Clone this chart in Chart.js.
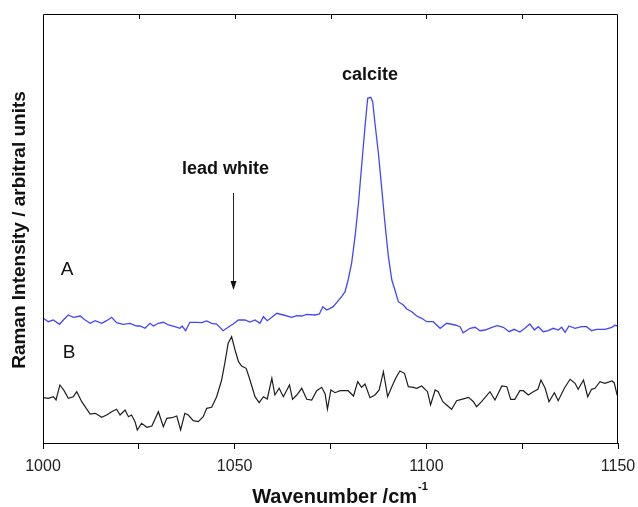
<!DOCTYPE html>
<html>
<head>
<meta charset="utf-8">
<script src="https://cdn.jsdelivr.net/npm/chart.js@4/dist/chart.umd.min.js"></script>
<style>
  html, body { margin: 0; padding: 0; background: #fff; }
  #wrap { width: 638px; height: 507px; }
</style>
</head>
<body>
<div id="wrap"><canvas id="c" width="638" height="507"></canvas></div>
<script>
// Raman spectra, 1000-1150 cm-1 (intensity in arbitrary units)
// Spectrum A: sample with calcite band near 1086 cm-1
const waveA = [1000.1,1001.4,1002.7,1004.3,1005.3,1006.6,1007.9,1009.7,1011.0,1012.3,1013.6,1015.3,1016.6,1017.9,1019.2,1020.9,1022.7,1024.4,1025.3,1026.6,1027.9,1028.8,1030.1,1031.4,1032.7,1034.4,1035.7,1036.3,1037.2,1038.3,1040.1,1041.4,1042.7,1044.0,1045.3,1047.0,1048.3,1049.6,1051.0,1052.7,1054.0,1055.3,1056.6,1057.5,1058.5,1059.7,1061.0,1062.7,1064.9,1066.2,1067.5,1068.8,1071.0,1072.1,1073.0,1074.0,1074.9,1075.7,1076.6,1077.9,1078.8,1079.6,1080.5,1081.4,1082.3,1083.1,1084.0,1084.7,1085.5,1086.0,1086.6,1087.5,1088.4,1089.2,1090.1,1091.0,1091.8,1092.7,1094.0,1094.9,1096.2,1097.5,1098.8,1100.1,1101.8,1103.6,1105.3,1107.5,1108.8,1109.6,1111.4,1112.7,1114.0,1115.3,1117.1,1118.5,1120.1,1121.6,1122.9,1124.4,1125.7,1127.0,1128.2,1129.2,1130.5,1131.8,1133.1,1134.4,1135.3,1136.2,1137.2,1138.8,1140.5,1141.8,1143.1,1144.4,1146.6,1148.4,1149.2,1150.0];
const intensityA = [124.7,121.3,123,118.7,123,128,125.7,127,123,119.7,122.3,119.7,122.3,125.7,120.3,118.7,119.7,117,117,114.7,119.7,117,119.7,120.7,118,116.3,114.7,117,112.3,120.7,120.7,120.3,122,119.7,119,112.3,115.7,119,123,123,121,123,119.7,126.3,122.3,125.7,129.7,128,125.7,127.3,127,128.7,128,129,136.3,133,134.7,136.3,140.3,146.3,151.3,163,179.7,206.3,239.7,276.3,316.3,344.7,345.7,341.3,319.7,289.7,253,219.7,186.3,163,153,141.3,138,134,131.3,127,124.7,121.3,121.3,114.7,119.7,118,116.3,110.3,114.7,115.7,112.3,113,115.7,117.3,115.7,111.3,113.7,111,114.7,119,113,116.3,111.3,112.3,114.7,113,115.7,110.7,117,114.7,116.3,116.3,112.3,113.7,113.7,115.7,117.7,117];

// Spectrum B: sample with lead white band near 1049 cm-1
const waveB = [1000.1,1001.4,1002.7,1003.4,1004.4,1005.5,1006.6,1007.9,1008.8,1010.1,1012.3,1013.6,1014.4,1015.3,1016.6,1017.9,1019.2,1020.1,1021.4,1022.3,1023.1,1024.0,1024.6,1025.7,1027.1,1028.4,1030.1,1031.4,1032.3,1033.6,1034.9,1035.9,1037.0,1037.9,1039.2,1040.5,1041.8,1042.7,1044.0,1045.3,1046.6,1047.5,1048.3,1049.2,1050.1,1051.0,1051.8,1053.0,1054.0,1055.3,1056.4,1057.5,1058.5,1059.7,1060.5,1061.6,1062.7,1064.3,1065.1,1066.2,1067.5,1068.8,1070.1,1071.4,1072.7,1073.6,1074.2,1075.1,1076.2,1077.5,1079.6,1081.0,1082.1,1083.1,1084.0,1085.3,1086.6,1087.7,1088.8,1089.9,1091.0,1092.0,1093.1,1094.3,1095.3,1096.6,1097.5,1098.8,1099.7,1100.3,1101.1,1102.3,1103.1,1104.3,1105.3,1106.6,1107.9,1109.2,1111.0,1112.3,1113.1,1114.4,1116.6,1117.9,1119.7,1121.0,1122.0,1123.1,1124.4,1125.3,1126.6,1127.9,1129.1,1129.9,1131.0,1132.0,1133.4,1134.4,1136.0,1137.5,1138.8,1139.6,1141.0,1142.1,1143.1,1144.0,1145.3,1146.6,1148.4,1149.0,1149.7,1150.0];
const intensityB = [45.3,44.7,46.3,43,58,52.3,44.7,46.3,51.3,41.3,29,29.7,28,25.7,28,31.3,33.7,28,33,26.3,28,21.3,13,19.7,15.7,17,31.3,16.3,24.7,25.3,27,13,29.7,28,22.3,21.3,26.3,34.7,35.7,46.3,63,81.3,99.7,106.3,93,81.3,77,74.7,63,46.3,40.3,46.3,44,64.7,48,54.7,46.3,58,43.7,48,54.7,43.7,43,52.3,55.7,49,34,53,50.3,52.3,52.3,47,61.3,55.7,59,45.3,48,53,71.3,46.3,56.3,64.7,72,69.7,56.3,55.7,54.7,57,53.7,51.3,38,53,51.3,41.3,38,33.7,42.3,43.7,45.7,41.3,36.3,41.3,51.3,43,57,56.3,43.7,43.7,52.3,52.3,48,51.3,53.7,63,54.7,41.3,50.3,42.3,54.7,63.7,59.7,53.7,63,46.3,53.7,54.7,61.3,59.7,62,60.3,49,51.3];

// Axis range and labelled ticks
const xMin = 1000, xMax = 1150, xStep = 25;
const xLabelled = [1000, 1050, 1100, 1150];

// Annotation anchors in data units
const notes = [
  { text: 'calcite',    x: 1085.3, y: 368 },
  { text: 'lead white', x: 1047.6, y: 274 },
  { text: 'A',          x: 1006.3, y: 173 },
  { text: 'B',          x: 1006.8, y: 90 }
];
const arrowX = 1049.6, arrowFrom = 250, arrowTo = 153;

const toPoints = (xs, ys) => xs.map((v, i) => ({ x: v, y: ys[i] }));
const FONT = '"Liberation Sans", Arial, sans-serif';

const decorations = {
  id: 'decorations',
  afterDraw(chart) {
    const { ctx, chartArea: a, scales: { x, y } } = chart;
    ctx.save();
    // Frame on left, top and right
    ctx.strokeStyle = '#000';
    ctx.lineWidth = 1;
    ctx.beginPath();
    ctx.moveTo(a.left + 0.5, a.bottom);
    ctx.lineTo(a.left + 0.5, a.top + 0.5);
    ctx.lineTo(a.right - 0.5, a.top + 0.5);
    ctx.lineTo(a.right - 0.5, a.bottom);
    // inward ticks along the top edge
    x.ticks.forEach(t => {
      const p = Math.round(x.getPixelForValue(t.value)) + 0.5;
      if (p > a.left + 2 && p < a.right - 2) {
        ctx.moveTo(p, a.top);
        ctx.lineTo(p, a.top + 5);
      }
    });
    ctx.stroke();

    // Arrow marking the lead white band
    const ax = Math.round(x.getPixelForValue(arrowX)) + 0.5;
    const ay0 = y.getPixelForValue(arrowFrom);
    const ay1 = y.getPixelForValue(arrowTo);
    ctx.strokeStyle = '#222';
    ctx.beginPath();
    ctx.moveTo(ax, ay0);
    ctx.lineTo(ax, ay1 - 6);
    ctx.stroke();
    ctx.fillStyle = '#111';
    ctx.beginPath();
    ctx.moveTo(ax - 3, ay1 - 9);
    ctx.lineTo(ax + 3, ay1 - 9);
    ctx.lineTo(ax, ay1);
    ctx.closePath();
    ctx.fill();

    // Text annotations
    ctx.fillStyle = '#111';
    ctx.textAlign = 'center';
    ctx.textBaseline = 'middle';
    notes.forEach(n => {
      ctx.font = (n.text.length > 1 ? 'bold 18px ' : '19px ') + FONT;
      ctx.fillText(n.text, x.getPixelForValue(n.x), y.getPixelForValue(n.y));
    });

    // Axis titles
    ctx.font = 'bold 19px ' + FONT;
    ctx.save();
    ctx.translate(20, 230);
    ctx.rotate(-Math.PI / 2);
    ctx.fillText('Raman Intensity / arbitral units', 0, 0);
    ctx.restore();

    const main = 'Wavenumber /cm';
    const sup = '-1';
    ctx.font = 'bold 20px ' + FONT;
    const wMain = ctx.measureText(main).width;
    ctx.font = 'bold 11px ' + FONT;
    const wSup = ctx.measureText(sup).width;
    const start = 340 - (wMain + wSup + 1) / 2;
    ctx.textAlign = 'left';
    ctx.font = 'bold 20px ' + FONT;
    ctx.fillText(main, start, 497);
    ctx.font = 'bold 11px ' + FONT;
    ctx.fillText(sup, start + wMain + 1, 487);
    ctx.restore();
  }
};

new Chart(document.getElementById('c'), {
  type: 'line',
  data: {
    datasets: [
      { label: 'A', data: toPoints(waveA, intensityA), borderColor: '#4545ff', borderWidth: 1.3 },
      { label: 'B', data: toPoints(waveB, intensityB), borderColor: '#1e1e1e', borderWidth: 1.2 }
    ]
  },
  options: {
    responsive: false,
    animation: false,
    devicePixelRatio: 1,
    layout: { padding: { left: 43, right: 20, top: 14, bottom: 30 } },
    elements: { point: { radius: 0 }, line: { tension: 0, fill: false } },
    plugins: { legend: { display: false }, tooltip: { enabled: false } },
    scales: {
      x: {
        type: 'linear',
        min: xMin, max: xMax,
        afterFit: s => { s.height = 34; s.paddingLeft = 0; s.paddingRight = 0; },
        ticks: {
          stepSize: xStep,
          autoSkip: false,
          maxRotation: 0,
          padding: 8,
          color: '#222',
          font: { family: FONT, size: 16 },
          callback: v => xLabelled.includes(v) ? String(v) : ''
        },
        grid: { display: true, drawOnChartArea: false, drawTicks: true, tickLength: 6, color: '#000', lineWidth: 1 },
        border: { display: true, color: '#000', width: 1 }
      },
      y: {
        display: false,
        min: 0, max: 429
      }
    }
  },
  plugins: [decorations]
});
</script>
</body>
</html>
